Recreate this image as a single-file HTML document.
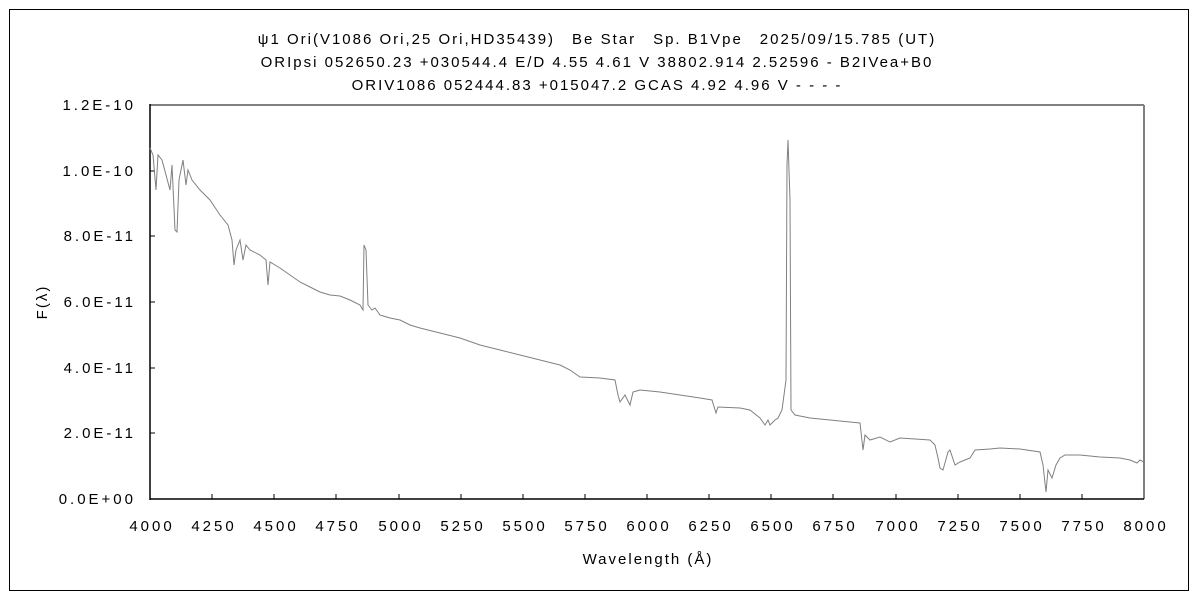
<!DOCTYPE html>
<html><head><meta charset="utf-8"><style>
body{margin:0;background:#fff;}
svg text{font-family:"Liberation Sans","Noto Sans CJK JP",sans-serif;font-size:15px;fill:#000;}
.t{letter-spacing:2px;}
.k{letter-spacing:3px;}
</style></head><body>
<svg width="1200" height="600" viewBox="0 0 1200 600" xmlns="http://www.w3.org/2000/svg">
<rect x="0" y="0" width="1200" height="600" fill="#fff"/>
<rect x="9.5" y="9.5" width="1179" height="581" fill="none" stroke="#000" stroke-width="1"/>
<g class="t" text-anchor="middle">
<text x="597" y="44">ψ1 Ori(V1086 Ori,25 Ori,HD35439)　Be Star　Sp. B1Vpe　2025/09/15.785 (UT)</text>
<text x="597" y="67">ORIpsi 052650.23 +030544.4 E/D 4.55 4.61 V 38802.914 2.52596 - B2IVea+B0</text>
<text x="597" y="90">ORIV1086 052444.83 +015047.2 GCAS 4.92 4.96 V - - - -</text>
</g>
<line x1="150" y1="105" x2="1144" y2="105" stroke="#808080" stroke-width="2"/>
<line x1="1144" y1="105" x2="1144" y2="499" stroke="#808080" stroke-width="2"/>
<line x1="150" y1="104" x2="150" y2="500" stroke="#000" stroke-width="1.5"/>
<line x1="150" y1="499" x2="1144" y2="499" stroke="#000" stroke-width="1.5"/>
<g stroke="#000" stroke-width="1">
<line x1="150" y1="171" x2="155" y2="171"/><line x1="150" y1="236" x2="155" y2="236"/><line x1="150" y1="302" x2="155" y2="302"/><line x1="150" y1="368" x2="155" y2="368"/><line x1="150" y1="433" x2="155" y2="433"/>
<line x1="212" y1="499" x2="212" y2="494"/><line x1="274" y1="499" x2="274" y2="494"/><line x1="336" y1="499" x2="336" y2="494"/><line x1="399" y1="499" x2="399" y2="494"/><line x1="461" y1="499" x2="461" y2="494"/><line x1="523" y1="499" x2="523" y2="494"/><line x1="585" y1="499" x2="585" y2="494"/><line x1="647" y1="499" x2="647" y2="494"/><line x1="709" y1="499" x2="709" y2="494"/><line x1="771" y1="499" x2="771" y2="494"/><line x1="833" y1="499" x2="833" y2="494"/><line x1="896" y1="499" x2="896" y2="494"/><line x1="958" y1="499" x2="958" y2="494"/><line x1="1020" y1="499" x2="1020" y2="494"/><line x1="1082" y1="499" x2="1082" y2="494"/>
</g>
<g class="k" text-anchor="end">
<text x="136" y="110">1.2E-10</text><text x="136" y="176">1.0E-10</text><text x="136" y="241">8.0E-11</text><text x="136" y="307">6.0E-11</text><text x="136" y="373">4.0E-11</text><text x="136" y="438">2.0E-11</text><text x="136" y="504">0.0E+00</text>
</g>
<g class="k" text-anchor="middle">
<text x="152" y="531">4000</text><text x="214" y="531">4250</text><text x="276" y="531">4500</text><text x="338" y="531">4750</text><text x="401" y="531">5000</text><text x="463" y="531">5250</text><text x="525" y="531">5500</text><text x="587" y="531">5750</text><text x="649" y="531">6000</text><text x="711" y="531">6250</text><text x="773" y="531">6500</text><text x="835" y="531">6750</text><text x="898" y="531">7000</text><text x="960" y="531">7250</text><text x="1022" y="531">7500</text><text x="1084" y="531">7750</text><text x="1146" y="531">8000</text>
</g>
<g class="t" text-anchor="middle">
<text x="648" y="564">Wavelength (Å)</text>
<text transform="translate(47,302) rotate(-90)">F(λ)</text>
</g>
<polyline fill="none" stroke="#808080" stroke-width="1" points="150,148 153,155 156,190 158,155 162,160 166,175 170,190 172,165 175,230 177,232 179,180 183,160 186,185 188,170 192,180 200,190 210,200 220,215 228,225 232,240 234,265 236,250 240,240 243,260 246,245 250,250 260,255 266,260 268,285 270,262 280,268 290,275 300,282 310,287 320,292 330,295 340,296 350,300 360,305 363,310 364,245 366,250 368,305 372,310 375,308 380,315 390,318 400,320 410,325 420,328 440,333 460,338 480,345 500,350 520,355 540,360 560,365 570,370 580,377 600,378 615,380 618,395 620,402 625,395 630,405 633,392 640,390 660,392 680,395 700,398 712,400 716,413 718,407 740,408 750,410 760,418 765,425 768,420 770,425 775,420 778,418 782,410 786,380 787,165 788,140 790,200 791,410 795,415 810,418 820,419 850,422 860,423 863,450 865,435 870,440 880,437 890,442 900,438 930,440 935,445 938,458 940,468 943,470 948,452 950,450 955,465 960,462 970,458 975,450 990,449 1000,448 1020,449 1040,452 1043,465 1046,492 1048,470 1052,478 1056,465 1060,458 1065,455 1080,455 1100,457 1120,458 1130,460 1137,463 1140,460 1144,462"/>
</svg>
</body></html>
